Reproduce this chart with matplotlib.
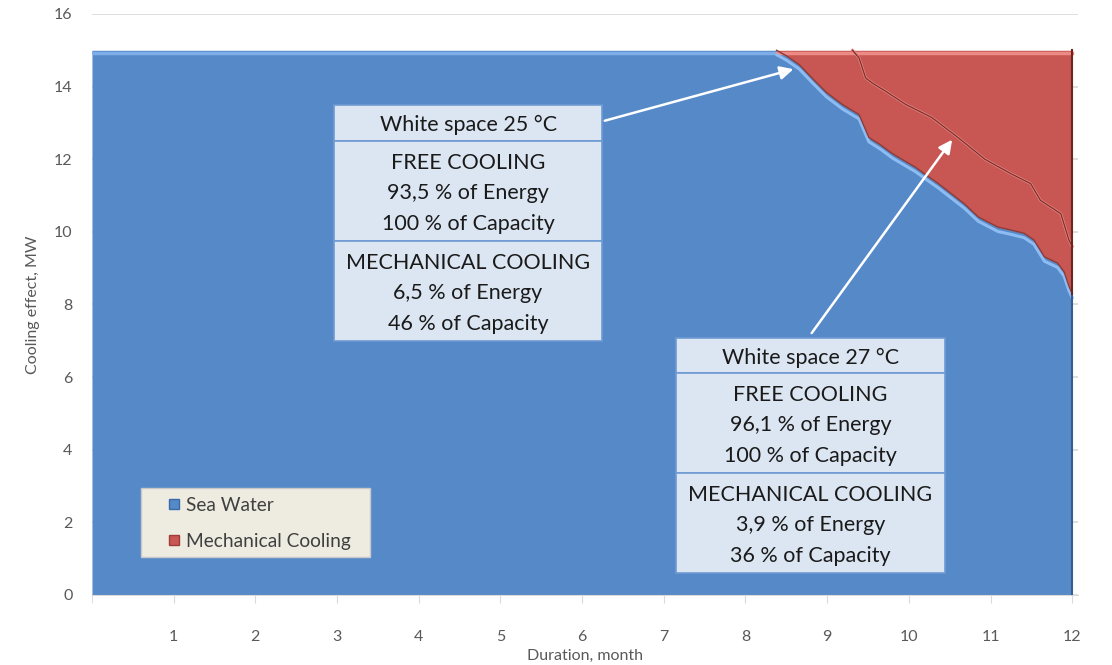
import numpy as np
import matplotlib.pyplot as plt
from matplotlib.patches import Rectangle
from matplotlib.lines import Line2D

plt.rcParams['font.family'] = ['Lato', 'DejaVu Sans']

# duration curve (months) -> cooling split, MW
months = [0, 8.38, 8.50, 8.66, 8.83, 8.99, 9.19, 9.39, 9.51, 9.65, 9.80, 9.95,
          10.08, 10.22, 10.36, 10.52, 10.68, 10.85, 11.09, 11.25, 11.41, 11.53,
          11.66, 11.82, 11.90, 11.96, 12.0]
sea_water = [15.0, 15.0, 14.85, 14.6, 14.2, 13.84, 13.5, 13.23, 12.6, 12.4,
             12.15, 11.95, 11.78, 11.55, 11.33, 11.05, 10.77, 10.41, 10.13,
             10.05, 9.96, 9.78, 9.31, 9.14, 8.9, 8.5, 8.3]
mech_cooling = [0.0, 0.0, 0.15, 0.4, 0.8, 1.16, 1.5, 1.77, 2.4, 2.6,
                2.85, 3.05, 3.22, 3.45, 3.67, 3.95, 4.23, 4.59, 4.87,
                4.95, 5.04, 5.22, 5.69, 5.86, 6.1, 6.5, 6.7]

# boundary of the 27 degC case (inner ridge of the red area)
months_27 = [9.31, 9.39, 9.47, 9.55, 9.71, 9.96, 10.28, 10.6, 10.93, 11.25,
             11.49, 11.61, 11.86, 11.96, 12.0]
sea_water_27 = [15.0, 14.79, 14.24, 14.1, 13.88, 13.51, 13.15, 12.6, 12.0,
                11.6, 11.33, 10.87, 10.5, 9.77, 9.6]

y_ticks = [0, 2, 4, 6, 8, 10, 12, 14, 16]
x_ticks = [1, 2, 3, 4, 5, 6, 7, 8, 9, 10, 11, 12]

box_25 = ['White space 25 °C',
          'FREE COOLING\n93,5 % of Energy\n100 % of Capacity',
          'MECHANICAL COOLING\n6,5 % of Energy\n46 % of Capacity']
box_27 = ['White space 27 °C',
          'FREE COOLING\n96,1 % of Energy\n100 % of Capacity',
          'MECHANICAL COOLING\n3,9 % of Energy\n36 % of Capacity']

BLUE = '#5689c8'
RED = '#c85652'
GRAY = '#595959'

fig = plt.figure(figsize=(11.12, 6.65), dpi=100)
ax = fig.add_axes([0.0827, 0.1053, 0.8867, 0.8737])

x = np.array(months)
sea = np.array(sea_water)
mech = np.array(mech_cooling)

ax.fill_between(x, 0, sea, color=BLUE, lw=0, zorder=2)
ax.fill_between(x, sea, sea + mech, color=RED, lw=0, zorder=2)
# bevel-ish highlights
ax.plot([0, 8.38], [14.93, 14.93], color='#7eaee8', lw=2.5, zorder=3)
ax.plot([8.38, 12], [14.93, 14.93], color='#ec8a86', lw=2.5, zorder=3)
ax.plot(x[1:], sea[1:] - 0.12, color='#8cbcf2', lw=2.2, zorder=3,
        solid_capstyle='round')
ax.plot(x[1:], sea[1:], color='#8e3a36', lw=1.0, zorder=3)
ax.plot(months_27, sea_water_27, color='#e88480', lw=2.0, zorder=3)
ax.plot(months_27, sea_water_27, color='#7a302d', lw=0.9, zorder=3)
ax.plot([12, 12], [0, 8.3], color='#345d92', lw=1.5, zorder=3)
ax.plot([12, 12], [8.3, 15], color='#6e2522', lw=1.5, zorder=3)

ax.set_xlim(0, 12.07)
ax.set_ylim(0, 16)
ax.set_yticks(y_ticks)
ax.set_xticks(x_ticks)
ax.grid(axis='y', color='#d9d9d9', lw=1.2, zorder=0)
for s in ['top', 'right', 'left']:
    ax.spines[s].set_visible(False)
ax.spines['bottom'].set_color('#d9d9d9')
ax.tick_params(axis='y', length=0, pad=14, labelsize=11.5, labelcolor=GRAY)
ax.tick_params(axis='x', length=6, color='#d9d9d9', pad=19, labelsize=11.5,
               labelcolor=GRAY)
ax.set_xticks(range(0, 13), minor=True)
ax.tick_params(axis='x', which='minor', length=6, color='#d9d9d9')
ax.set_xlabel('Duration, month', fontsize=11.5, color=GRAY, labelpad=4)
ax.set_ylabel('Cooling effect, MW', fontsize=11.5, color=GRAY, labelpad=10)


def table_box(x0, x1, ys, lines):
    for (ya, yb), txt in zip(zip(ys[:-1], ys[1:]), lines):
        ax.add_patch(Rectangle((x0, yb), x1 - x0, ya - yb, facecolor='#dce6f2',
                               edgecolor='#6f9bd4', lw=1.2, zorder=5))
        ax.text((x0 + x1) / 2, (ya + yb) / 2 - 0.07, txt, ha='center',
                va='center', fontsize=15.5, color='#1a1a1a', linespacing=1.65,
                zorder=6)


table_box(2.963, 6.245, [13.5, 12.51, 9.75, 7.0], box_25)
table_box(7.15, 10.44, [7.08, 6.12, 3.36, 0.61], box_27)

arrow = dict(arrowstyle='-|>', color='white', lw=1.8, mutation_scale=20)
ax.annotate('', xy=(8.62, 14.5), xytext=(6.245, 13.04), arrowprops=arrow, zorder=7)
ax.annotate('', xy=(10.55, 12.6), xytext=(8.79, 7.15), arrowprops=arrow, zorder=7)

# legend: own background box, frameless legend on top
ax.add_patch(Rectangle((0.0497, 0.0654), 0.2323, 0.1186, transform=ax.transAxes,
                       facecolor='#eeece1', edgecolor='#c8c8c8', lw=1.0, zorder=8))
handles = [Line2D([], [], marker='s', ls='', markersize=7.5, markerfacecolor=BLUE,
                  markeredgecolor='#3a6aa8'),
           Line2D([], [], marker='s', ls='', markersize=7.5, markerfacecolor=RED,
                  markeredgecolor='#a03c38')]
leg = ax.legend(handles, ['Sea Water', 'Mechanical Cooling'], loc='center left',
                bbox_to_anchor=(0.0765, 0.123), borderaxespad=0, borderpad=0,
                frameon=False, fontsize=13.8, labelcolor='#404040',
                handletextpad=0.25, labelspacing=1.0, handlelength=0.7)
leg.set_zorder(9)

fig.savefig('out.png', dpi=100)
